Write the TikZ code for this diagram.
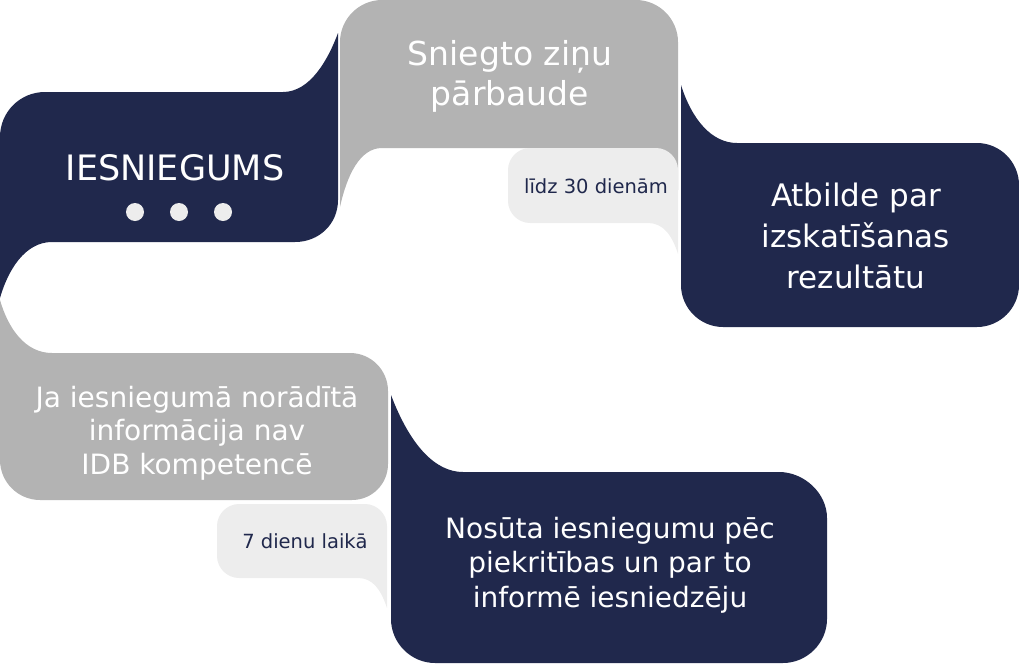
\documentclass[tikz,border=0pt]{standalone}
\usepackage{fontspec}
\setmainfont{DejaVu Sans}
\usepackage{xcolor}
\usepackage{tikz}
\definecolor{navy}{HTML}{20284C}
\definecolor{midgray}{HTML}{B3B3B3}
\definecolor{lightgray}{HTML}{EDEDED}

\begin{document}
\begin{tikzpicture}[x=1pt,y=-1pt,
    bigtext/.style={text=white,align=center,inner sep=0pt},
    smalltext/.style={text=navy,inner sep=0pt,anchor=base,font=\fontsize{19.5}{23}\selectfont}]
                \useasboundingbox (0,0) rectangle (1019,664);

                % Iesniegums
                \fill[navy] (0,298) -- (0,137)
                    .. controls (0,112) and (20,92) .. (45,92) -- (283,92)
                    .. controls (310,92) and (328,60) .. (338,33) -- (338,200)
                    .. controls (338,224) and (319,242) .. (295,242) -- (52,242)
                    .. controls (25,242) and (8,270) .. (0,298) -- cycle;
                \node[bigtext,anchor=base,font=\fontsize{35}{42}\selectfont] (iesn) at (175,180) {IESNIEGUMS};
                \foreach \x in {135,179,223}
                    \fill[lightgray] (\x,212) circle (9pt);

                % Parbaude
                \fill[midgray] (340,207) -- (340,42)
                    .. controls (340,19) and (359,0) .. (382,0) -- (636,0)
                    .. controls (659,0) and (678,19) .. (678,42)
                    -- (678,190) -- (560,190) -- (560,148) -- (382,148)
                    .. controls (360,148) and (347,175) .. (340,207) -- cycle;
                \node[bigtext,font=\fontsize{33}{40}\selectfont] (parb) at (510,76) {Sniegto ziņu\\pārbaude};

                \fill[lightgray] (508,170)
                    .. controls (508,158) and (518,148) .. (530,148) -- (656,148)
                    .. controls (668,148) and (678,158) .. (678,170) -- (678,254)
                    .. controls (672,235) and (663,223) .. (648,223) -- (530,223)
                    .. controls (518,223) and (508,213) .. (508,201) -- cycle;
                \node[smalltext] (lidz) at (596,193) {līdz 30 dienām};

                % Atbilde
                \fill[navy] (681,85) -- (681,285)
                    .. controls (681,308) and (700,327) .. (723,327) -- (977,327)
                    .. controls (1000,327) and (1019,308) .. (1019,285) -- (1019,185)
                    .. controls (1019,162) and (1000,143) .. (977,143) -- (737,143)
                    .. controls (712,143) and (692,120) .. (681,85) -- cycle;
                \node[bigtext,font=\fontsize{31}{41}\selectfont] (atb) at (856,236) {Atbilde par\\izskatīšanas\\rezultātu};

                % Nav IDB kompetence
                \fill[midgray] (0,300) -- (0,460)
                    .. controls (0,482) and (18,500) .. (40,500) -- (352,500)
                    .. controls (372,500) and (388,484) .. (388,464) -- (388,391)
                    .. controls (388,370) and (371,353) .. (350,353) -- (52,353)
                    .. controls (25,353) and (8,328) .. (0,300) -- cycle;
                \node[bigtext,font=\fontsize{28}{33.5}\selectfont] (ja) at (197,433) {Ja iesniegumā norādītā\\informācija nav\\IDB kompetencē};

                \fill[lightgray] (217,526)
                    .. controls (217,514) and (227,504) .. (239,504) -- (365,504)
                    .. controls (377,504) and (387,514) .. (387,526) -- (387,608)
                    .. controls (381,590) and (373,578) .. (358,578) -- (239,578)
                    .. controls (227,578) and (217,568) .. (217,556) -- cycle;
                \node[smalltext] (sept) at (305,548) {7 dienu laikā};

                % Nosuta
                \fill[navy] (391,395) -- (391,619)
                    .. controls (391,643) and (411,663) .. (435,663) -- (783,663)
                    .. controls (807,663) and (827,643) .. (827,619) -- (827,518)
                    .. controls (827,493) and (804,472) .. (779,472) -- (463,472)
                    .. controls (435,472) and (410,445) .. (391,395) -- cycle;
                \node[bigtext,font=\fontsize{28}{34.5}\selectfont] (nos) at (610,565) {Nosūta iesniegumu pēc\\piekritības un par to\\informē iesniedzēju};

\end{tikzpicture}
\end{document}
